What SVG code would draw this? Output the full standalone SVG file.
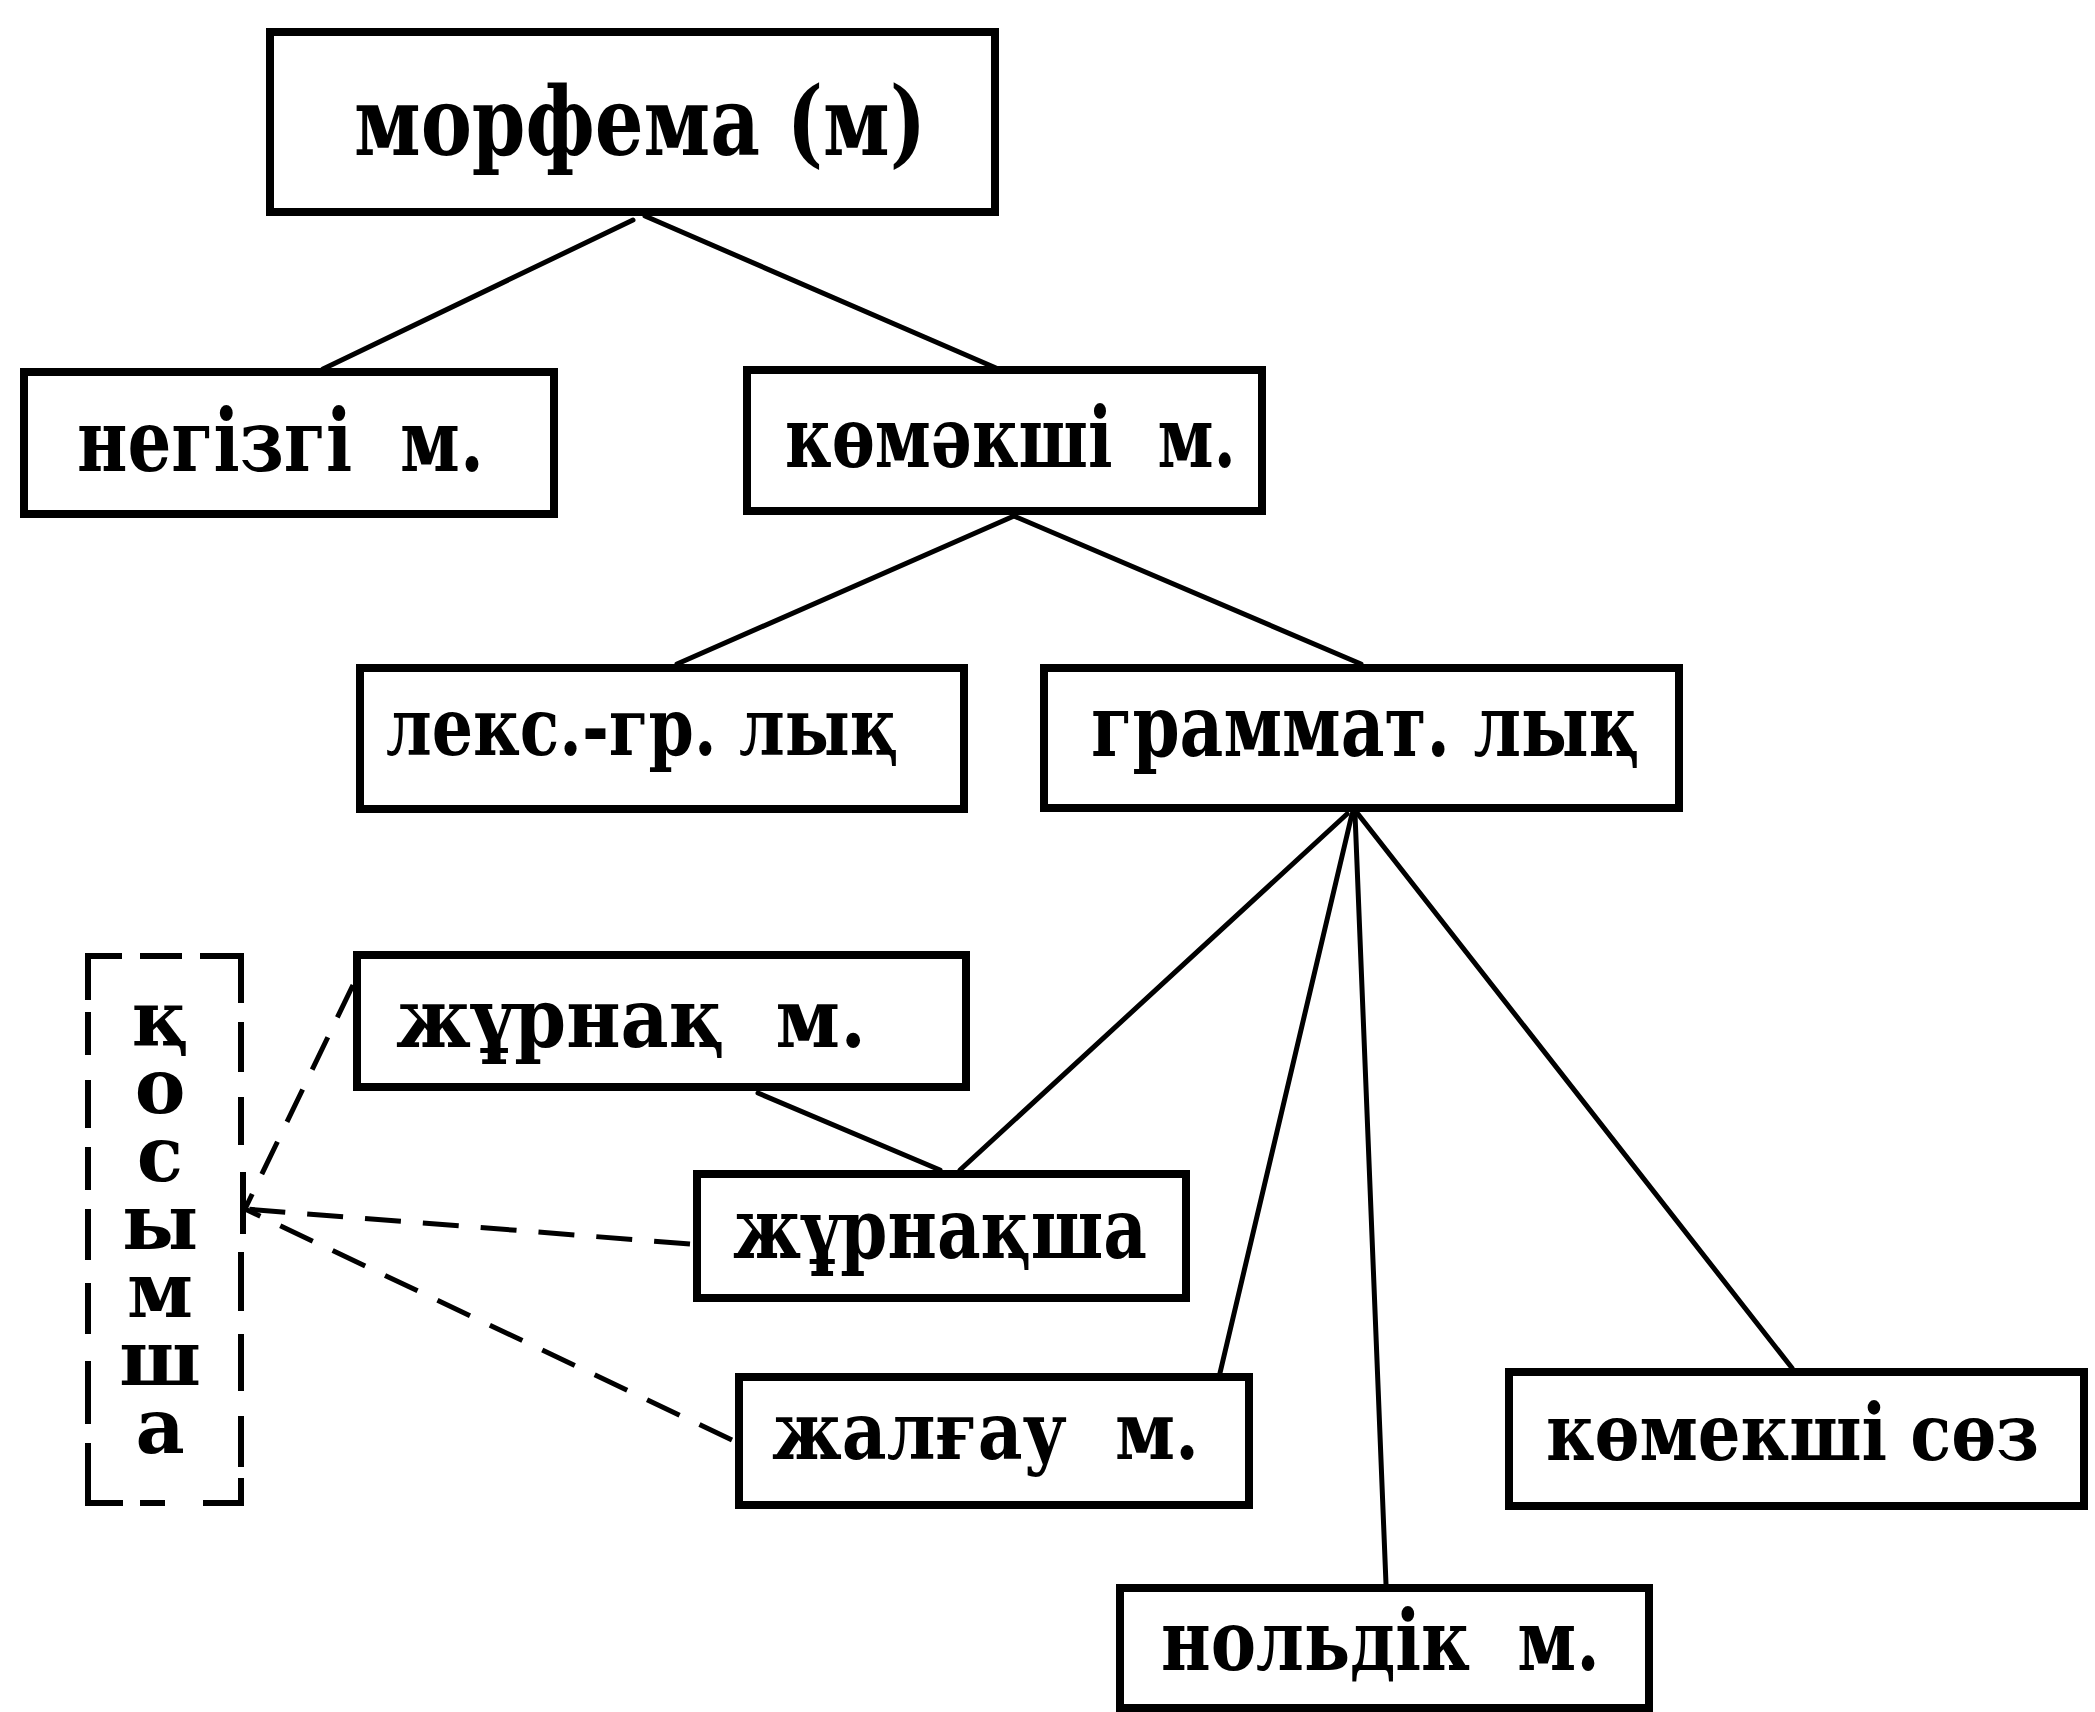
<svg xmlns="http://www.w3.org/2000/svg" width="2095" height="1712" viewBox="0 0 2095 1712">
<style>
.box{fill:#fff;stroke:#000;stroke-width:8}
.t{font-family:"DejaVu Serif","Liberation Serif",serif;font-weight:bold;font-stretch:condensed;fill:#000;white-space:pre}
.ln{stroke:#000;stroke-width:5;fill:none;stroke-linecap:round}
.dl{stroke:#000;stroke-width:5;fill:none;stroke-dasharray:36 22}
.db{stroke:#000;stroke-width:6;fill:none}
.v{font-family:"DejaVu Serif","Liberation Serif",serif;font-weight:bold;fill:#000;font-size:76px;writing-mode:vertical-rl;text-orientation:upright;letter-spacing:-21px}
</style>
<rect width="2095" height="1712" fill="#fff"/>
<g id="connectors">
<line class="ln" x1="633" y1="220" x2="323" y2="369"/>
<line class="ln" x1="645" y1="216" x2="996" y2="368"/>
<line class="ln" x1="1014" y1="516" x2="677" y2="664"/>
<line class="ln" x1="1014" y1="516" x2="1361" y2="664"/>
<line class="ln" x1="1347" y1="814" x2="960" y2="1170"/>
<line class="ln" x1="1352" y1="814" x2="1220" y2="1373"/>
<line class="ln" x1="1355" y1="814" x2="1386" y2="1584"/>
<line class="ln" x1="1358" y1="814" x2="1792" y2="1368"/>
<line class="ln" x1="758" y1="1093" x2="940" y2="1170"/>
<line class="dl" x1="353" y1="985" x2="245" y2="1209"/>
<line class="dl" x1="690" y1="1244" x2="245" y2="1209"/>
<line class="dl" x1="732" y1="1440" x2="245" y2="1209"/>
</g>
<g id="n-morfema"><rect class="box" x="270" y="32" width="725" height="180"/><text class="t" x="354" y="155" font-size="96" textLength="572" lengthAdjust="spacingAndGlyphs">морфема (м)</text></g>
<g id="n-negizgi"><rect class="box" x="24" y="372" width="530" height="142"/><text class="t" x="77" y="471" font-size="86" textLength="407" lengthAdjust="spacingAndGlyphs">негізгі  м.</text></g>
<g id="n-komekshi"><rect class="box" x="747" y="370" width="515" height="141"/><text class="t" x="785" y="467" font-size="84" textLength="451" lengthAdjust="spacingAndGlyphs">көмәкші  м.</text></g>
<g id="n-leks"><rect class="box" x="360" y="668" width="604" height="141"/><text class="t" x="386" y="755" font-size="80" textLength="512" lengthAdjust="spacingAndGlyphs">лекс.-гр. лық</text></g>
<g id="n-grammat"><rect class="box" x="1044" y="668" width="635" height="140"/><text class="t" x="1091" y="756" font-size="86" textLength="548" lengthAdjust="spacingAndGlyphs">граммат. лық</text></g>
<g id="n-zhurnak"><rect class="box" x="357" y="955" width="609" height="132"/><text class="t" x="396" y="1047" font-size="82" textLength="470" lengthAdjust="spacingAndGlyphs">жұрнақ  м.</text></g>
<g id="n-zhurnaksha"><rect class="box" x="697" y="1174" width="489" height="124"/><text class="t" x="733" y="1258" font-size="84" textLength="414" lengthAdjust="spacingAndGlyphs">жұрнақша</text></g>
<g id="n-zhalgau"><rect class="box" x="739" y="1377" width="510" height="128"/><text class="t" x="772" y="1459" font-size="80" textLength="427" lengthAdjust="spacingAndGlyphs">жалғау  м.</text></g>
<g id="n-noldik"><rect class="box" x="1120" y="1588" width="529" height="120"/><text class="t" x="1161" y="1670" font-size="84" textLength="439" lengthAdjust="spacingAndGlyphs">нольдік  м.</text></g>
<g id="n-komekshi-soz"><rect class="box" x="1509" y="1372" width="575" height="134"/><text class="t" x="1546" y="1460" font-size="78" textLength="493" lengthAdjust="spacingAndGlyphs">көмекші сөз</text></g>
<g id="n-kosymsha">
<path class="db" d="M85 956H122M140 956H182M200 956H244M88 953V1000M88 1012V1055M88 1080V1128M88 1147V1190M88 1209V1260M88 1283V1334M88 1361V1424M88 1443V1506M241 953V1003M241 1022V1072M241 1097V1145M243 1172V1234M241 1252V1311M241 1334V1391M241 1416V1467M241 1478V1506M85 1503H123M140 1503H165M203 1503H244"/>
<text class="v" x="160" y="974">қосымша</text>
</g>
</svg>
